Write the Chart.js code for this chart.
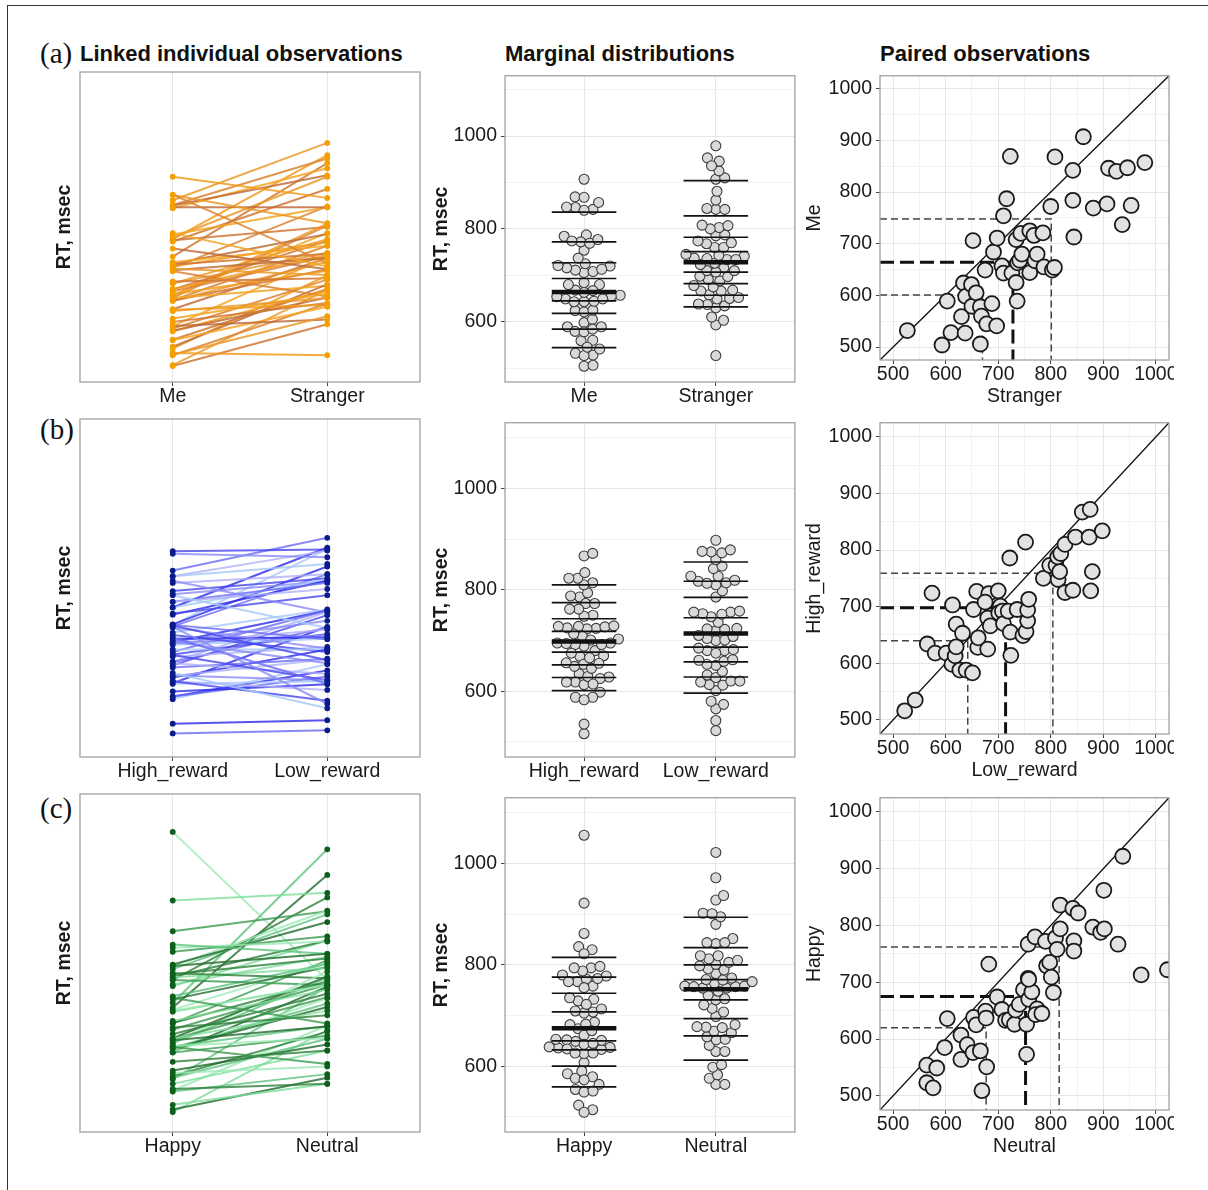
<!DOCTYPE html>
<html>
<head>
<meta charset="utf-8">
<script src="https://cdn.jsdelivr.net/npm/chart.js@4.4.1/dist/chart.umd.min.js"></script>
<style>
  body { margin: 0; background: #fff; width: 1208px; height: 1190px; position: relative; overflow: hidden; }
  .frame-top { position: absolute; left: 7px; top: 5px; width: 1201px; border-top: 1.5px solid #333; }
  .frame-left { position: absolute; left: 7px; top: 5px; height: 1185px; border-left: 1.5px solid #333; }
  .tag { position: absolute; font-family: "Liberation Serif", "Times New Roman", serif; font-size: 29px; line-height: 29px; color: #111; }
  .title { position: absolute; font-family: "Liberation Sans", Arial, sans-serif; font-weight: bold; font-size: 22px; line-height: 22px; color: #111; white-space: nowrap; }
  .panel { position: absolute; overflow: hidden; }
  canvas { display: block; }
</style>
</head>
<body>
<div class="frame-top"></div>
<div class="frame-left"></div>
<div class="tag" style="left:40px;top:39px">(a)</div>
<div class="tag" style="left:40px;top:415px">(b)</div>
<div class="tag" style="left:40px;top:794px">(c)</div>
<div class="title" style="left:80px;top:43px">Linked individual observations</div>
<div class="title" style="left:505px;top:43px">Marginal distributions</div>
<div class="title" style="left:880px;top:43px">Paired observations</div>
<script>
// (a) self vs stranger, one entry per participant
const conditionsA = ['Me', 'Stranger'];
const meRT = [532, 504, 528, 589, 559, 527, 624, 598, 621, 579, 605, 706, 578, 560, 506, 545, 649, 584, 541, 684,
  711, 754, 787, 869, 657, 643, 643, 708, 589, 663, 668, 720, 680, 625, 725, 644, 716, 667, 680, 721,
  655, 649, 654, 772, 868, 842, 784, 713, 907, 769, 777, 846, 840, 847, 774, 737, 857];
const strangerRT = [527, 593, 610, 603, 630, 637, 634, 638, 649, 650, 658, 652, 666, 668, 666, 678, 675, 688, 697, 691,
  698, 710, 716, 723, 707, 710, 726, 734, 736, 737, 741, 743, 745, 734, 760, 760, 768, 770, 774, 785,
  787, 803, 807, 800, 808, 842, 842, 844, 862, 881, 907, 910, 925, 946, 953, 936, 979];
const meDeciles = [544, 584, 618, 645, 664, 693, 727, 772, 836];
const strangerDeciles = [632, 657, 682, 707, 728, 751, 782, 828, 904];
const meQuartiles = [601, 748];
const strangerQuartiles = [670, 801];

// (b) high vs low reward
const conditionsB = ['High_reward', 'Low_reward'];
const highRT = [516, 535, 634, 724, 618, 618, 703, 598, 613, 629, 669, 653, 588, 588, 583, 695, 727, 628, 645, 625,
  680, 723, 708, 666, 728, 701, 689, 692, 670, 692, 655, 614, 786, 695, 649, 656, 675, 694, 713, 814,
  750, 773, 773, 748, 762, 788, 794, 810, 725, 729, 823, 867, 872, 823, 834, 762, 728];
const lowRT = [522, 542, 565, 574, 580, 601, 613, 612, 618, 620, 620, 632, 627, 639, 651, 653, 659, 661, 662, 680,
  680, 682, 675, 685, 700, 704, 701, 708, 710, 719, 723, 724, 722, 736, 747, 753, 756, 756, 758, 752,
  786, 798, 810, 814, 817, 813, 819, 827, 827, 842, 847, 860, 875, 873, 898, 879, 876];
const highDeciles = [601, 627, 652, 677, 698, 718, 743, 775, 810];
const lowDeciles = [596, 628, 658, 687, 714, 745, 785, 817, 855];
const highQuartiles = [640, 759];
const lowQuartiles = [642, 804];

// (c) happy vs neutral faces
const conditionsC = ['Happy', 'Neutral'];
const happyRT = [554, 523, 514, 549, 585, 636, 607, 564, 590, 576, 638, 625, 579, 509, 649, 637, 551, 732, 674, 652,
  633, 634, 626, 651, 661, 687, 626, 573, 707, 670, 683, 705, 653, 643, 645, 767, 780, 772, 729, 735,
  709, 682, 778, 758, 794, 836, 830, 822, 773, 755, 797, 788, 794, 862, 767, 922, 713, 722, 1056];
const neutralRT = [564, 564, 576, 583, 598, 603, 629, 629, 641, 652, 653, 658, 666, 669, 676, 677, 678, 682, 698, 707,
  714, 721, 731, 733, 740, 748, 754, 754, 757, 758, 764, 758, 774, 771, 783, 757, 770, 790, 792, 798,
  801, 805, 809, 812, 818, 818, 842, 852, 844, 844, 880, 895, 902, 901, 928, 937, 972, 1022, 767];
const happyDeciles = [559, 600, 632, 650, 675, 707, 744, 776, 815];
const neutralDeciles = [612, 660, 694, 731, 752, 771, 800, 834, 894];
const happyQuartiles = [620, 762];
const neutralQuartiles = [677, 816];

// axes
const rtRange = [470, 1130];
const rtTicks = [500, 600, 700, 800, 900, 1000, 1100];
const rtLabelled = [600, 800, 1000];
const pairRange = [475, 1025];
const pairTicks = [500, 550, 600, 650, 700, 750, 800, 850, 900, 950, 1000];
const pairLabelled = [500, 600, 700, 800, 900, 1000];

const rows = [
  { names: conditionsA, first: meRT, second: strangerRT, deciles: [meDeciles, strangerDeciles], quartiles: [meQuartiles, strangerQuartiles] },
  { names: conditionsB, first: highRT, second: lowRT, deciles: [highDeciles, lowDeciles], quartiles: [highQuartiles, lowQuartiles] },
  { names: conditionsC, first: happyRT, second: neutralRT, deciles: [happyDeciles, neutralDeciles], quartiles: [happyQuartiles, neutralQuartiles] },
];

// styling
const FONT = '"Liberation Sans", Arial, sans-serif';
const TEXT = '#1a1a1a';
const TICK = '#444';
const GRID_MAJOR = '#e6e6e6';
const GRID_MINOR = '#f2f2f2';
const PAD_TOP = 10;
const lineColors = [
  ['#f29b1dd9', '#d17835d9', '#eb9a2ad9', '#c06f3cd9', '#f5a623d9', '#dc8532d9'],
  ['#6a6af5cc', '#2b2beacc', '#a6c8facc', '#8a8af7cc', '#4646efcc', '#b0b0fbcc'],
  ['#2d7f3acc', '#7fdd9ccc', '#1f6a2acc', '#5cc27dcc', '#9be8b4cc', '#3c9a50cc'],
];
const pointColors = ['#f5a000', '#0b1b8a', '#0d5f1c'];
const rowGeom = [
  { T: 72, B: 382, sB: 360 },
  { T: 419, B: 757, sB: 734 },
  { T: 794, B: 1132, sB: 1110 },
];

Chart.defaults.font.family = FONT;
Chart.defaults.color = TEXT;
Chart.defaults.animation = false;
Chart.defaults.responsive = false;
Chart.defaults.devicePixelRatio = 1;
Chart.defaults.events = [];
Chart.defaults.plugins.legend.display = false;
Chart.defaults.plugins.tooltip.enabled = false;

// ggplot-like panel border on all four sides
Chart.register({
  id: 'panelBorder',
  afterDraw(chart) {
    const { ctx, chartArea: a } = chart;
    ctx.save();
    ctx.strokeStyle = '#a0a0a0';
    ctx.lineWidth = 1.3;
    ctx.strokeRect(a.left, a.top, a.right - a.left, a.bottom - a.top);
    ctx.restore();
  },
});

const tickFont = { family: FONT, size: 19.5, lineHeight: 1 };
const titleFont = (bold) => ({ family: FONT, size: 19.5, weight: bold ? 'bold' : 'normal', lineHeight: 1 });

function canvasFor(box) {
  const left = box.L - box.yW;
  const top = box.T - PAD_TOP;
  const w = box.R - box.L + box.yW + box.pr;
  const h = box.B - box.T + PAD_TOP + box.xH;
  const wrap = document.createElement('div');
  wrap.className = 'panel';
  wrap.style.left = left + 'px';
  wrap.style.top = top + 'px';
  wrap.style.width = (box.clipX ? box.clipX - left : w) + 'px';
  wrap.style.height = h + 'px';
  const c = document.createElement('canvas');
  c.width = w;
  c.height = h;
  wrap.appendChild(c);
  document.body.appendChild(wrap);
  return c;
}

function layoutFor(box) {
  return { padding: { left: 0, top: PAD_TOP, right: box.pr, bottom: 0 } };
}

function gridFor(labelled) {
  return {
    color: (c) => (labelled.includes(c.tick.value) ? GRID_MAJOR : GRID_MINOR),
    tickColor: (c) => (labelled.includes(c.tick.value) ? TICK : 'rgba(0,0,0,0)'),
    tickLength: 4,
    lineWidth: 1,
  };
}

function valueAxis(box, range, ticks, labelled, title, bold, show) {
  return {
    type: 'linear', min: range[0], max: range[1],
    afterBuildTicks: (s) => { s.ticks = ticks.map((v) => ({ value: v })); },
    afterFit: (s) => { s.width = box.yW; },
    ticks: { display: show, autoSkip: false, padding: 4, font: tickFont, color: TEXT,
      callback: (v) => (labelled.includes(v) ? String(v) : '') },
    grid: show ? gridFor(labelled) : { display: false },
    border: { display: false },
    title: { display: true, text: title, color: TEXT, font: titleFont(bold), padding: { top: box.yTitlePad, bottom: 0 } },
  };
}

function pairXAxis(box, title) {
  return {
    type: 'linear', min: pairRange[0], max: pairRange[1],
    afterBuildTicks: (s) => { s.ticks = pairTicks.map((v) => ({ value: v })); },
    afterFit: (s) => { s.height = box.xH; },
    ticks: { autoSkip: false, maxRotation: 0, minRotation: 0, padding: 0.5, font: tickFont, color: TEXT,
      callback: (v) => (pairLabelled.includes(v) ? String(v) : '') },
    grid: gridFor(pairLabelled),
    border: { display: false },
    title: { display: true, text: title, color: TEXT, font: titleFont(false), padding: { top: 0, bottom: 3.75 } },
  };
}

function categoryAxis(box, names) {
  return {
    type: 'linear', min: 0.4, max: 2.6,
    afterBuildTicks: (s) => { s.ticks = [{ value: 1 }, { value: 2 }]; },
    afterFit: (s) => { s.height = box.xH; },
    ticks: { autoSkip: false, maxRotation: 0, minRotation: 0, padding: 0.5, font: tickFont, color: TEXT,
      callback: (v) => names[v - 1] },
    grid: { color: GRID_MAJOR, tickColor: TICK, tickLength: 4, lineWidth: 1 },
    border: { display: false },
  };
}

// beeswarm offsets (in category units), points sorted by value and pushed sideways until they do not collide
function swarm(values, pxPerX, pxPerY, gap) {
  const order = values.map((v, i) => i).sort((a, b) => values[a] - values[b]);
  const placed = [];
  const offsets = new Array(values.length);
  order.forEach((i) => {
    const y = values[i] * pxPerY;
    const near = placed.filter((p) => Math.abs(p.y - y) < gap);
    const cands = [0];
    near.forEach((p) => {
      const w = Math.sqrt(gap * gap - (p.y - y) * (p.y - y));
      cands.push(p.x + w, p.x - w);
    });
    cands.sort((a, b) => Math.abs(a) - Math.abs(b));
    const x = cands.find((c) => near.every((p) => (p.x - c) ** 2 + (p.y - y) ** 2 >= gap * gap - 0.01));
    placed.push({ x, y });
    offsets[i] = x / pxPerX;
  });
  return offsets;
}

function linkedChart(row, r) {
  const g = rowGeom[r];
  const box = { L: 80, R: 420, T: g.T, B: g.B, yW: 40, xH: 45, pr: 6, yTitlePad: 15.25 };
  const palette = lineColors[r];
  const datasets = row.first.map((v, i) => ({
    data: [{ x: 1, y: v }, { x: 2, y: row.second[i] }],
    showLine: true,
    borderColor: palette[i % palette.length],
    borderWidth: 2,
    pointRadius: 2.9,
    pointBackgroundColor: pointColors[r],
    pointBorderWidth: 0,
  }));
  new Chart(canvasFor(box), {
    type: 'scatter',
    data: { datasets },
    options: {
      layout: layoutFor(box),
      scales: {
        x: categoryAxis(box, row.names),
        y: valueAxis(box, rtRange, rtTicks, rtLabelled, 'RT, msec', true, false),
      },
    },
  });
}

function marginalChart(row, r) {
  const g = rowGeom[r];
  const box = { L: 505, R: 795, T: g.T, B: g.B, yW: 80, xH: 45, pr: 6, yTitlePad: 7.25 };
  const pxPerX = (box.R - box.L) / 2.2;
  const pxPerY = (box.B - box.T) / (rtRange[1] - rtRange[0]);
  const datasets = [];
  [row.first, row.second].forEach((vals, k) => {
    const centre = k + 1;
    row.deciles[k].forEach((d, j) => {
      datasets.push({
        data: [{ x: centre - 0.245, y: d }, { x: centre + 0.245, y: d }],
        showLine: true,
        borderColor: '#111',
        borderWidth: j === 4 ? 4.5 : 1.7,
        pointRadius: 0,
        order: 0,
      });
    });
    const off = swarm(vals, pxPerX, pxPerY, 9);
    datasets.push({
      data: vals.map((v, i) => ({ x: centre + off[i], y: v })),
      pointRadius: 5,
      pointBackgroundColor: '#d9d9d9',
      pointBorderColor: '#3c3c3c',
      pointBorderWidth: 1.1,
      order: 1,
    });
  });
  new Chart(canvasFor(box), {
    type: 'scatter',
    data: { datasets },
    options: {
      layout: layoutFor(box),
      scales: {
        x: categoryAxis(box, row.names),
        y: valueAxis(box, rtRange, rtTicks, rtLabelled, 'RT, msec', true, true),
      },
    },
  });
}

function pairedChart(row, r) {
  const g = rowGeom[r];
  const box = { L: 880, R: 1169, T: g.T, B: g.sB, yW: 80, xH: 50, pr: 30, yTitlePad: 5.25, clipX: 1174 };
  const lo = pairRange[0];
  const [qy, qx] = row.quartiles;
  const medY = row.deciles[0][4];
  const medX = row.deciles[1][4];
  const corner = (x, y) => [{ x: lo, y }, { x, y }, { x, y: lo }];
  const guide = (pts, width, dash, color) => ({
    data: pts, showLine: true, borderColor: color, borderWidth: width, borderDash: dash,
    pointRadius: 0, order: 1, clip: 0,
  });
  const datasets = [
    {
      data: row.first.map((v, i) => ({ x: row.second[i], y: v })),
      pointRadius: 7.5,
      pointBackgroundColor: '#e2e2e2',
      pointBorderColor: '#1a1a1a',
      pointBorderWidth: 1.8,
      order: 0,
      clip: 0,
    },
    guide([{ x: pairRange[0], y: pairRange[0] }, { x: pairRange[1], y: pairRange[1] }], 1.3, [], '#111'),
    guide(corner(medX, medY), 3, [14, 6], '#111'),
    guide(corner(qx[0], qy[0]), 1.5, [7, 4], '#444'),
    guide(corner(qx[1], qy[1]), 1.5, [7, 4], '#444'),
  ];
  new Chart(canvasFor(box), {
    type: 'scatter',
    data: { datasets },
    options: {
      layout: layoutFor(box),
      scales: {
        x: pairXAxis(box, row.names[1]),
        y: valueAxis(box, pairRange, pairTicks, pairLabelled, row.names[0], false, true),
      },
    },
  });
}

rows.forEach((row, r) => {
  linkedChart(row, r);
  marginalChart(row, r);
  pairedChart(row, r);
});
</script>
</body>
</html>
